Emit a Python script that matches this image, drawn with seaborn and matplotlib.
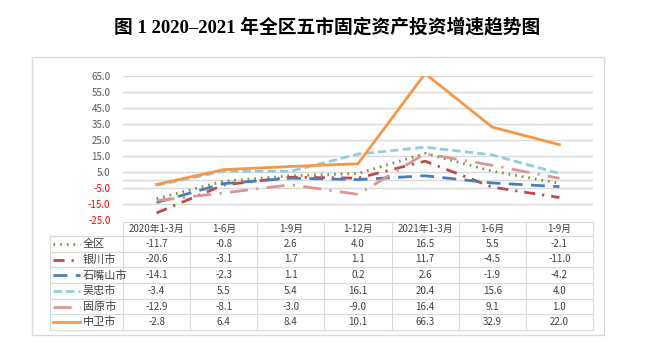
import numpy as np
import pandas as pd
import matplotlib.pyplot as plt
import seaborn as sns
from matplotlib.lines import Line2D
from matplotlib.patches import Rectangle

# 数据
periods = ["2020年1-3月", "1-6月", "1-9月", "1-12月", "2021年1-3月", "1-6月", "1-9月"]
areas = ["全区", "银川市", "石嘴山市", "吴忠市", "固原市", "中卫市"]
quanqu = [-11.7, -0.8, 2.6, 4.0, 16.5, 5.5, -2.1]
yinchuan = [-20.6, -3.1, 1.7, 1.1, 11.7, -4.5, -11.0]
shizuishan = [-14.1, -2.3, 1.1, 0.2, 2.6, -1.9, -4.2]
wuzhong = [-3.4, 5.5, 5.4, 16.1, 20.4, 15.6, 4.0]
guyuan = [-12.9, -8.1, -3.0, -9.0, 16.4, 9.1, 1.0]
zhongwei = [-2.8, 6.4, 8.4, 10.1, 66.3, 32.9, 22.0]
yticks = [-25, -15, -5, 5, 15, 25, 35, 45, 55, 65]

values = [quanqu, yinchuan, shizuishan, wuzhong, guyuan, zhongwei]
colors = ["#77933C", "#BE4B48", "#4A7EBB", "#92CDDC", "#DA9694", "#F79646"]
dashes = [(0.6, 1.8), (4, 2.5, 0.8, 2.5), (5, 3), (3, 1.5), (6.5, 3, 0.8, 3), ""]

df = pd.DataFrame({
    "x": np.tile(np.arange(len(periods)), len(areas)),
    "value": np.concatenate(values),
    "area": np.repeat(areas, len(periods)),
})

plt.rcParams['font.family'] = ['Noto Sans CJK SC', 'DejaVu Sans']

W, H = 659, 358
fig = plt.figure(figsize=(W / 100, H / 100), dpi=100)

def fx(px):
    return px / W

def fy(py):
    return 1 - py / H

# 外框
fig.patches.append(Rectangle((fx(32), fy(335)), fx(604) - fx(32), fy(57) - fy(335),
                             transform=fig.transFigure, fill=False, ec="#D9D9D9", lw=1))

# 标题
fig.text(fx(327), fy(27), "图 1 2020–2021 年全区五市固定资产投资增速趋势图",
         ha="center", va="center", fontsize=13.5, fontweight="bold", color="black",
         family=["Liberation Serif", "Noto Sans CJK SC"])

# 折线图
x_left, x_right = 123, 593
ax = fig.add_axes([fx(x_left), fy(220), fx(x_right) - fx(x_left), fy(75.7) - fy(220)])
sns.lineplot(data=df, x="x", y="value", hue="area", style="area",
             palette=dict(zip(areas, colors)), dashes=dict(zip(areas, dashes)),
             lw=2, legend=False, ax=ax, dash_capstyle="butt")
ax.set_xlim(-0.5, len(periods) - 0.5)
ax.set_ylim(-25, 65)
ax.set_yticks(yticks)
ax.set_yticklabels([f"{v:.1f}" for v in yticks], fontsize=7)
for lab, v in zip(ax.get_yticklabels(), yticks):
    lab.set_color("red" if v < 0 else "#595959")
ax.tick_params(axis="y", length=0, pad=9)
ax.set_xticks([])
ax.set_xlabel("")
ax.set_ylabel("")
for s in ax.spines.values():
    s.set_visible(False)
ax.grid(axis="y", color="#D9D9D9", lw=1)
ax.axhline(0, color="#D9D9D9", lw=1, zorder=0)
ax.set_axisbelow(True)

# 数据表
col_w = (x_right - x_left) / len(periods)
row_top = 222
head_bot = 236
row_h = (330 - 236) / len(areas)
grid_c = "#D9D9D9"
txt_c = "#404040"

def hline(y, x0, x1):
    fig.add_artist(Line2D([fx(x0), fx(x1)], [fy(y), fy(y)], color=grid_c, lw=0.8))

def vline(x, y0, y1):
    fig.add_artist(Line2D([fx(x), fx(x)], [fy(y0), fy(y1)], color=grid_c, lw=0.8))

hline(row_top, x_left, x_right)
for i in range(len(areas) + 1):
    hline(head_bot + i * row_h, 50, x_right)
vline(50, head_bot, 330)
for j in range(len(periods) + 1):
    vline(x_left + j * col_w, row_top, 330)

for j, p in enumerate(periods):
    fig.text(fx(x_left + (j + 0.5) * col_w), fy((row_top + head_bot) / 2), p,
             ha="center", va="center", fontsize=7, color=txt_c)

for i, (name, vals, c, d) in enumerate(zip(areas, values, colors, dashes)):
    yc = head_bot + (i + 0.5) * row_h
    ls = "-" if d == "" else (0, d)
    fig.add_artist(Line2D([fx(53), fx(80)], [fy(yc), fy(yc)], color=c, lw=2, ls=ls))
    fig.text(fx(83), fy(yc), name, ha="left", va="center", fontsize=8, color=txt_c)
    for j, v in enumerate(vals):
        fig.text(fx(x_left + (j + 0.5) * col_w), fy(yc), f"{v:.1f}",
                 ha="center", va="center", fontsize=7, color=txt_c)

fig.savefig("out.png", dpi=100)
